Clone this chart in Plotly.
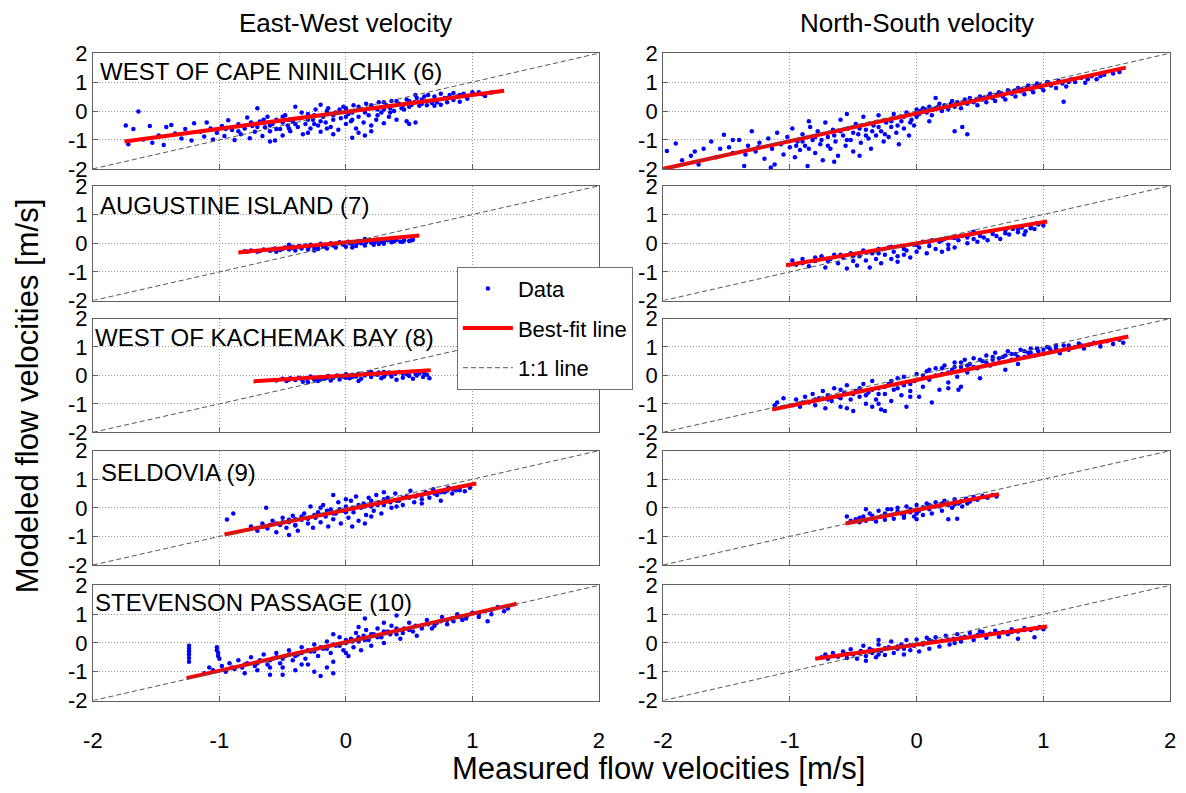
import plotly.graph_objects as go

# ---------------- data ----------------
axis_ticks = [-2, -1, 0, 1, 2]
tick_text = ["-2", "-1", "0", "1", "2"]
one_to_one = [-2, 2]

column_titles = ["East-West velocity", "North-South velocity"]
station_names = ["WEST OF CAPE NINILCHIK (6)", "AUGUSTINE ISLAND (7)",
                 "WEST OF KACHEMAK BAY (8)", "SELDOVIA (9)", "STEVENSON PASSAGE (10)"]

# (6) West of Cape Ninilchik, East-West
ew6_pts = [(-1.74,-0.50),(-1.72,-1.15),(-1.68,-0.62),(-1.64,-0.02),(-1.60,-0.98),(-1.55,-0.52),(-1.53,-1.10),
 (-1.48,-0.85),(-1.44,-1.17),(-1.42,-0.55),(-1.38,-0.48),(-1.35,-0.78),(-1.30,-0.95),(-1.27,-0.62),(-1.22,-1.02),
 (-1.20,-0.42),(-1.15,-0.72),(-1.12,-0.88),(-1.10,-0.40),(-1.07,-0.60),(-1.05,-0.98),(-1.02,-0.75),(-0.98,-0.52),
 (-0.96,-0.86),(-0.93,-0.32),(-0.90,-0.66),(-0.88,-1.00),(-0.85,-0.46),(-0.83,-0.80),(-0.80,-0.60),(-0.78,-0.22),
 (-0.76,-0.94),(-0.74,-0.52),(-0.72,-0.72),(-0.70,0.10),(-0.68,-0.36),(-0.66,-0.86),(-0.64,-0.56),(-0.62,-0.20),
 (-0.60,-0.70),(-0.58,-0.45),(-0.56,-1.02),(-0.55,-0.30),(-0.52,-0.62),(-0.50,-0.85),(-0.48,-0.15),(-0.46,-0.50),
 (-0.44,-0.70),(-0.42,-0.35),(-0.40,0.15),(-0.38,-0.55),(-0.36,-0.25),(-0.34,-0.80),(-0.32,-0.45),(-0.30,-0.10),
 (-0.28,-0.60),(-0.26,-0.30),(-0.24,0.05),(-0.22,-0.50),(-0.20,-0.72),(-0.18,-0.20),(-0.16,-0.40),(-0.14,0.10),
 (-0.12,-0.55),(-0.10,-0.30),(-0.08,-0.05),(-0.06,-0.65),(-0.04,-0.25),(-0.02,0.15),(0.00,-0.45),(0.02,-0.10),
 (0.04,-0.35),(0.06,0.20),(0.08,-0.60),(0.10,-0.20),(0.12,0.05),(0.14,-0.40),(0.16,0.25),(0.18,-0.15),(0.20,-0.50),
 (0.22,0.10),(0.24,-0.30),(0.26,0.30),(0.28,-0.05),(0.30,-0.42),(0.32,0.20),(0.34,-0.20),(0.36,0.35),(0.38,0.00),
 (0.40,-0.30),(0.42,0.25),(0.44,0.10),(0.46,0.05),(0.48,0.40),(0.50,0.15),(0.52,0.22),(0.54,0.30),(0.56,0.45),
 (0.58,0.18),(0.60,0.25),(0.62,0.50),(0.64,0.20),(0.66,0.35),(0.68,0.28),(0.70,0.50),(0.72,0.30),(0.75,0.22),
 (0.78,0.45),(0.80,0.30),(0.82,0.55),(0.85,0.38),(0.88,0.50),(0.90,0.32),(0.93,0.60),(0.96,0.42),(1.00,0.56),
 (1.05,0.65),(1.10,0.52),(1.15,0.64),(0.10,-0.75),(0.15,-0.85),(0.05,-0.92),(0.20,-0.70),(-0.20,0.22),(0.48,-0.35),
 (0.50,-0.45),(0.55,-0.40),(-0.60,-1.05),(-0.50,-0.40),(-0.10,-0.80),(0.30,0.05),(-0.30,-0.75),(0.60,0.40),
 (0.70,0.18),(0.85,0.62)]
ew6_core = [(-0.95,-0.62),(-0.85,-0.70),(-0.75,-0.40),(-0.70,-0.55),(-0.65,-0.30),(-0.60,-0.50),(-0.55,-0.62),
 (-0.50,-0.20),(-0.45,-0.30),(-0.40,-0.45),(-0.35,-0.05),(-0.30,-0.30),(-0.25,-0.15),(-0.20,-0.35),(-0.15,0.00),
 (-0.10,-0.15),(-0.05,0.05),(0.00,-0.20),(0.00,0.10),(0.05,-0.05),(0.10,0.15),(0.15,-0.05),(0.20,0.20),(0.25,0.05),
 (0.30,0.30),(0.35,0.10),(0.40,0.35),(0.45,0.20),(0.50,0.35),(0.55,0.55),(0.60,0.35),(0.65,0.55),(0.70,0.40),
 (0.75,0.60),(0.80,0.45),(0.90,0.55),(0.95,0.50),(1.00,0.65),(1.08,0.58),(-0.25,-0.45),(0.05,-0.30),(0.25,-0.15),
 (-0.45,-0.60),(-0.15,-0.60),(0.35,-0.05)]
ew6_fit_x = [-1.75, 1.25]
ew6_fit_y = [-1.05, 0.70]

# (6) West of Cape Ninilchik, North-South
ns6_pts = [(-1.97,-1.38),(-1.90,-1.12),(-1.85,-1.70),(-1.78,-1.55),(-1.72,-1.85),(-1.68,-1.30),(-1.62,-1.05),
 (-1.58,-1.60),(-1.52,-0.82),(-1.48,-1.25),(-1.45,-1.45),(-1.40,-1.00),(-1.36,-1.90),(-1.33,-1.20),(-1.30,-0.70),
 (-1.27,-1.40),(-1.24,-1.10),(-1.20,-1.65),(-1.17,-0.95),(-1.14,-1.30),(-1.12,-1.85),(-1.10,-0.75),(-1.07,-1.15),
 (-1.05,-1.50),(-1.02,-0.90),(-1.00,-1.25),(-0.98,-0.60),(-0.96,-1.60),(-0.94,-1.05),(-0.92,-1.35),(-0.90,-0.80),
 (-0.88,-1.20),(-0.86,-1.90),(-0.84,-0.55),(-0.82,-1.00),(-0.80,-1.45),(-0.78,-0.70),(-0.76,-1.15),(-0.74,-1.70),
 (-0.72,-0.40),(-0.70,-0.90),(-0.68,-1.30),(-0.66,-0.65),(-0.64,-1.05),(-0.62,-1.55),(-0.60,-0.30),(-0.58,-0.85),
 (-0.56,-1.20),(-0.54,-0.60),(-0.52,-1.00),(-0.50,-1.40),(-0.48,-0.45),(-0.46,-0.80),(-0.44,-1.10),(-0.42,-0.20),
 (-0.40,-0.65),(-0.38,-0.95),(-0.36,-1.30),(-0.34,-0.50),(-0.32,-0.85),(-0.30,-0.15),(-0.28,-0.70),(-0.26,-1.05),
 (-0.24,-0.40),(-0.22,-0.90),(-0.20,-0.55),(-0.18,-0.10),(-0.16,-0.75),(-0.14,-1.15),(-0.12,-0.35),(-0.10,-0.60),
 (-0.08,-0.05),(-0.06,-0.85),(-0.04,-0.30),(-0.02,-0.50),(0.00,0.05),(0.00,-0.20),(-1.15,-1.95),(-0.65,-1.75),
 (-0.45,-1.55),(-0.85,-0.35),(-0.55,-0.10),(0.02,-0.10),(0.05,0.10),(0.08,-0.05),(0.10,0.15),(0.12,-0.15),(0.15,0.10),
 (0.18,0.25),(0.20,0.00),(0.22,0.20),(0.25,0.05),(0.28,0.35),(0.30,0.15),(0.32,0.30),(0.35,0.10),(0.38,0.40),
 (0.40,0.25),(0.42,0.45),(0.45,0.30),(0.48,0.20),(0.50,0.50),(0.52,0.40),(0.55,0.30),(0.58,0.60),(0.60,0.45),
 (0.62,0.35),(0.65,0.65),(0.68,0.50),(0.70,0.40),(0.72,0.72),(0.75,0.60),(0.78,0.50),(0.80,0.80),(0.82,0.68),
 (0.85,0.58),(0.88,0.88),(0.90,0.75),(0.92,0.65),(0.95,0.95),(0.98,0.82),(1.00,0.72),(1.03,1.00),(1.06,0.88),
 (1.10,0.80),(1.12,1.05),(1.15,0.95),(1.18,0.85),(1.22,1.10),(1.25,1.00),(1.30,1.15),(1.33,0.98),(1.38,1.20),
 (1.42,1.10),(1.48,1.25),(1.55,1.30),(1.60,1.35),(1.16,0.32),(0.36,-0.55),(0.40,-0.80),(0.30,-0.70),(0.15,0.45),
 (0.10,-0.35)]
ns6_core = [(-0.95,-1.20),(-0.90,-1.05),(-0.85,-1.30),(-0.80,-0.90),(-0.75,-1.00),(-0.70,-1.20),(-0.65,-0.85),
 (-0.60,-0.70),(-0.55,-1.00),(-0.50,-0.75),(-0.45,-0.60),(-0.40,-0.85),(-0.35,-0.70),(-0.30,-0.55),(-0.25,-0.80),
 (-0.20,-0.35),(-0.15,-0.50),(-0.10,-0.20),(-0.05,-0.40),(0.03,0.00),(0.07,0.05),(0.13,0.05),(0.17,0.15),
 (0.23,0.15),(0.27,0.25),(0.33,0.25),(0.37,0.30),(0.43,0.35),(0.47,0.40),(0.53,0.45),(0.57,0.50),(0.63,0.55),
 (0.67,0.60),(0.73,0.65),(0.77,0.70),(0.83,0.75),(0.87,0.80),(0.93,0.85),(0.97,0.90),(1.05,0.95),(1.20,1.00),
 (1.35,1.10),(1.45,1.20),(-1.25,-1.25),(-1.35,-1.50),(-1.55,-1.30),(-1.75,-1.40),(-1.45,-1.00)]
ns6_fit_x = [-2.0, 1.65]
ns6_fit_y = [-2.0, 1.50]

# (7) Augustine Island, East-West
ew7_pts = [(-0.80,-0.28),(-0.75,-0.25),(-0.70,-0.30),(-0.65,-0.22),(-0.60,-0.26),(-0.56,-0.18),(-0.52,-0.24),
 (-0.48,-0.15),(-0.45,-0.22),(-0.42,-0.12),(-0.40,-0.25),(-0.37,-0.10),(-0.35,-0.18),(-0.32,-0.08),(-0.30,-0.22),
 (-0.28,-0.05),(-0.25,-0.15),(-0.22,-0.20),(-0.20,-0.02),(-0.18,-0.12),(-0.15,-0.18),(-0.12,0.00),(-0.10,-0.08),
 (-0.08,-0.15),(-0.05,0.03),(-0.02,-0.05),(0.00,-0.12),(0.02,0.05),(0.05,-0.02),(0.08,-0.10),(0.10,0.08),
 (0.12,0.00),(0.15,-0.08),(0.18,0.10),(0.20,0.02),(0.22,-0.05),(0.25,0.12),(0.28,0.05),(0.30,-0.02),(0.33,0.10),
 (0.36,0.03),(0.40,0.12),(0.43,0.05),(0.46,0.10),(0.50,0.08),(0.53,0.12),(-0.55,-0.30),(-0.25,-0.25),(0.05,-0.15),
 (0.35,0.15),(0.15,0.15),(-0.45,-0.05)]
ew7_core = [(-0.78,-0.30),(-0.68,-0.27),(-0.58,-0.22),(-0.50,-0.20),(-0.43,-0.17),(-0.36,-0.14),(-0.29,-0.12),
 (-0.22,-0.10),(-0.16,-0.06),(-0.09,-0.04),(-0.03,-0.02),(0.03,0.00),(0.09,0.02),(0.16,0.03),(0.23,0.05),
 (0.30,0.07),(0.38,0.06),(0.45,0.05),(0.52,0.10),(0.26,-0.03)]
ew7_fit_x = [-0.85, 0.58]
ew7_fit_y = [-0.32, 0.27]

# (7) Augustine Island, North-South
ns7_pts = [(-0.98,-0.60),(-0.95,-0.75),(-0.90,-0.55),(-0.85,-0.80),(-0.80,-0.62),(-0.75,-0.45),(-0.72,-0.85),
 (-0.68,-0.55),(-0.65,-0.40),(-0.62,-0.70),(-0.58,-0.50),(-0.55,-0.88),(-0.52,-0.35),(-0.50,-0.62),(-0.47,-0.78),
 (-0.45,-0.45),(-0.42,-0.25),(-0.40,-0.60),(-0.37,-0.85),(-0.35,-0.35),(-0.32,-0.55),(-0.30,-0.20),(-0.28,-0.70),
 (-0.25,-0.40),(-0.22,-0.15),(-0.20,-0.55),(-0.18,-0.30),(-0.15,-0.65),(-0.12,-0.10),(-0.10,-0.40),(-0.08,-0.25),
 (-0.05,-0.50),(-0.02,-0.05),(0.00,-0.30),(0.02,-0.15),(0.05,0.05),(0.08,-0.35),(0.10,-0.10),(0.12,0.10),
 (0.15,-0.20),(0.18,0.05),(0.20,-0.30),(0.22,0.15),(0.25,-0.05),(0.28,0.20),(0.30,-0.15),(0.33,0.10),(0.36,0.25),
 (0.40,0.00),(0.42,0.30),(0.45,0.15),(0.48,0.05),(0.50,0.35),(0.53,0.20),(0.56,0.10),(0.60,0.40),(0.63,0.25),
 (0.66,0.15),(0.70,0.45),(0.73,0.30),(0.76,0.50),(0.80,0.38),(0.83,0.55),(0.86,0.42),(0.90,0.60),(0.93,0.50),
 (0.96,0.65),(1.00,0.62),(0.85,0.30),(0.95,0.70)]
ns7_core = [(-0.90,-0.70),(-0.80,-0.50),(-0.70,-0.62),(-0.60,-0.40),(-0.50,-0.45),(-0.40,-0.32),(-0.30,-0.35),
 (-0.20,-0.12),(-0.10,-0.20),(0.00,-0.05),(0.10,0.05),(0.20,0.10),(0.30,0.18),(0.40,0.20),(0.50,0.25),(0.60,0.32),
 (0.70,0.35),(0.80,0.50),(0.90,0.52),(-0.15,-0.45),(0.25,-0.20),(0.45,0.40)]
ns7_fit_x = [-1.03, 1.03]
ns7_fit_y = [-0.77, 0.76]

# (8) West of Kachemak Bay, East-West
ew8_pts = [(-0.55,-0.18),(-0.50,-0.12),(-0.47,-0.20),(-0.44,-0.10),(-0.40,-0.16),(-0.37,-0.08),(-0.34,-0.22),
 (-0.31,-0.12),(-0.28,-0.04),(-0.25,-0.15),(-0.22,-0.20),(-0.20,-0.06),(-0.17,-0.12),(-0.14,-0.02),(-0.12,-0.18),
 (-0.10,-0.08),(-0.07,0.00),(-0.05,-0.14),(-0.02,-0.05),(0.00,0.04),(0.03,-0.10),(0.05,0.02),(0.08,-0.04),
 (0.10,0.06),(0.12,-0.12),(0.15,0.00),(0.18,0.08),(0.20,-0.06),(0.23,0.04),(0.26,0.10),(0.28,-0.10),(0.31,0.02),
 (0.34,0.10),(0.36,-0.04),(0.39,0.06),(0.42,0.12),(0.45,-0.08),(0.48,0.04),(0.50,0.10),(0.53,-0.12),(0.56,0.00),
 (0.58,0.08),(0.61,-0.06),(0.64,0.02),(0.66,-0.10),(0.40,-0.15),(0.30,0.12),(-0.30,-0.24),(0.10,-0.20),(0.20,0.12)]
ew8_core = [(-0.45,-0.15),(-0.35,-0.13),(-0.25,-0.08),(-0.15,-0.07),(-0.05,-0.03),(0.05,-0.06),(0.15,0.04),
 (0.25,0.02),(0.35,0.05),(0.45,0.06),(0.55,0.05),(0.62,0.08),(0.00,-0.08),(0.30,-0.05),(-0.20,-0.14),(0.50,-0.02)]
ew8_fit_x = [-0.73, 0.67]
ew8_fit_y = [-0.21, 0.18]

# (8) West of Kachemak Bay, North-South
ns8_pts = [(-1.12,-1.05),(-1.10,-0.95),(-0.98,-1.05),(-0.95,-0.85),(-0.92,-1.10),(-0.88,-0.75),(-0.85,-0.95),
 (-0.82,-0.65),(-0.80,-1.05),(-0.77,-0.80),(-0.74,-0.55),(-0.72,-1.15),(-0.70,-0.70),(-0.67,-0.90),(-0.65,-0.45),
 (-0.62,-0.75),(-0.60,-1.10),(-0.57,-0.60),(-0.55,-0.35),(-0.52,-0.85),(-0.50,-1.25),(-0.48,-0.55),(-0.45,-0.75),
 (-0.42,-0.30),(-0.40,-1.00),(-0.38,-0.60),(-0.35,-0.20),(-0.32,-0.85),(-0.30,-0.45),(-0.28,-1.20),(-0.25,-0.65),
 (-0.22,-0.30),(-0.20,-0.90),(-0.18,-0.50),(-0.15,-0.10),(-0.12,-0.70),(-0.10,-0.35),(-0.08,-1.10),(-0.05,-0.55),
 (-0.02,-0.20),(0.00,0.05),(0.02,-0.75),(0.05,-0.40),(0.08,0.15),(0.10,-0.15),(0.12,-0.95),(0.15,0.25),(0.18,-0.50),
 (0.20,0.05),(0.22,0.35),(0.25,-0.25),(0.28,0.20),(0.30,0.45),(0.32,-0.05),(0.35,0.30),(0.38,0.55),(0.40,0.10),
 (0.42,0.40),(0.45,0.60),(0.48,0.25),(0.50,-0.10),(0.52,0.50),(0.55,0.70),(0.58,0.35),(0.60,0.55),(0.62,0.80),
 (0.65,0.45),(0.68,0.65),(0.70,0.20),(0.72,0.85),(0.75,0.55),(0.78,0.75),(0.80,0.40),(0.82,0.90),(0.85,0.65),
 (0.88,0.80),(0.90,0.95),(0.93,0.70),(0.96,0.85),(1.00,0.75),(1.03,1.00),(1.06,0.85),(1.10,0.95),(1.13,0.78),
 (1.16,1.05),(1.20,0.90),(1.25,1.00),(1.28,1.12),(1.32,0.95),(1.36,1.08),(1.40,1.15),(1.45,1.02),(1.50,1.20),
 (1.55,1.10),(1.60,1.25),(1.63,1.15),(0.35,-0.40),(0.33,-0.50),(-0.25,-1.25),(-0.35,-1.10),(-0.55,-1.15),
 (-1.05,-0.80)]
ns8_core = [(-0.90,-0.95),(-0.80,-0.85),(-0.70,-0.85),(-0.60,-0.80),(-0.50,-0.65),(-0.45,-0.45),(-0.40,-0.70),
 (-0.35,-0.50),(-0.30,-0.65),(-0.25,-0.40),(-0.20,-0.20),(-0.15,-0.45),(-0.10,-0.05),(-0.05,-0.30),(0.00,-0.15),
 (0.05,0.00),(0.10,0.20),(0.15,0.00),(0.20,0.25),(0.25,0.10),(0.30,0.30),(0.35,0.45),(0.40,0.35),(0.45,0.30),
 (0.50,0.55),(0.55,0.45),(0.60,0.65),(0.65,0.60),(0.70,0.70),(0.75,0.75),(0.80,0.65),(0.85,0.85),(0.90,0.80),
 (0.95,0.95),(1.00,0.90),(1.05,0.95),(1.10,1.05),(1.20,1.05),(1.30,1.05),(1.45,1.15),(-0.60,-0.50),(-0.05,-0.75),
 (0.25,-0.45),(-0.30,-1.00)]
ns8_fit_x = [-1.14, 1.67]
ns8_fit_y = [-1.20, 1.37]

# (9) Seldovia, East-West
ew9_pts = [(-0.75,-0.65),(-0.70,-0.80),(-0.66,-0.55),(-0.62,-0.72),(-0.58,-0.45),(-0.55,-0.85),(-0.52,-0.60),
 (-0.50,-0.35),(-0.47,-0.70),(-0.45,-0.50),(-0.42,-0.28),(-0.40,-0.62),(-0.38,-0.80),(-0.35,-0.42),(-0.33,-0.20),
 (-0.30,-0.55),(-0.28,0.05),(-0.26,-0.70),(-0.24,-0.35),(-0.22,-0.15),(-0.20,-0.50),(-0.18,0.10),(-0.16,-0.30),
 (-0.14,-0.65),(-0.12,-0.05),(-0.10,-0.40),(-0.08,-0.20),(-0.06,0.20),(-0.04,-0.55),(-0.02,-0.10),(0.00,0.05),
 (0.02,-0.35),(0.04,0.25),(0.06,-0.15),(0.08,0.40),(0.10,-0.45),(0.12,0.00),(0.14,0.15),(0.16,-0.25),(0.18,0.35),
 (0.20,0.05),(0.22,-0.10),(0.24,0.45),(0.26,0.20),(0.28,-0.20),(0.30,0.10),(0.33,0.35),(0.36,0.00),(0.39,0.50),
 (0.42,0.25),(0.45,0.10),(0.48,0.40),(0.51,0.60),(0.54,0.20),(0.57,0.45),(0.60,0.30),(0.63,0.55),(0.66,0.35),
 (0.69,0.65),(0.72,0.45),(0.75,0.25),(0.78,0.55),(0.81,0.70),(0.84,0.50),(0.87,0.62),(0.90,0.72),(0.94,0.58),
 (0.98,0.70),(-0.94,-0.41),(-0.89,-0.20),(-0.63,0.00),(-0.10,0.45),(0.05,-0.65),(-0.45,-0.95),(0.30,0.55),
 (0.15,-0.55)]
ew9_core = [(-0.65,-0.65),(-0.60,-0.60),(-0.55,-0.55),(-0.50,-0.50),(-0.45,-0.42),(-0.40,-0.40),(-0.35,-0.30),
 (-0.30,-0.38),(-0.25,-0.25),(-0.20,-0.25),(-0.15,-0.10),(-0.10,-0.20),(-0.05,-0.05),(0.00,-0.15),(0.05,0.00),
 (0.10,0.10),(0.15,0.05),(0.20,0.25),(0.25,0.10),(0.30,0.30),(0.35,0.20),(0.40,0.25),(0.45,0.35),(0.50,0.35),
 (0.55,0.40),(0.60,0.45),(0.65,0.50),(0.70,0.50),(0.75,0.55),(0.80,0.60),(0.85,0.65),(0.90,0.62),(0.00,0.30),
 (0.20,-0.30),(-0.20,0.00),(0.40,0.05),(-0.40,-0.60),(0.60,0.15)]
ew9_fit_x = [-0.96, 1.03]
ew9_fit_y = [-0.93, 0.85]

# (9) Seldovia, North-South
ns9_pts = [(-0.52,-0.45),(-0.48,-0.40),(-0.45,-0.50),(-0.42,-0.30),(-0.40,-0.45),(-0.37,-0.20),(-0.35,-0.38),
 (-0.32,-0.48),(-0.30,-0.10),(-0.28,-0.30),(-0.25,-0.42),(-0.23,-0.05),(-0.20,-0.25),(-0.18,-0.38),(-0.15,0.00),
 (-0.12,-0.20),(-0.10,-0.35),(-0.08,0.05),(-0.05,-0.15),(-0.02,-0.30),(0.00,0.10),(0.02,-0.10),(0.05,-0.25),
 (0.08,0.15),(0.10,-0.05),(0.12,-0.20),(0.15,0.20),(0.18,0.05),(0.20,-0.10),(0.22,0.25),(0.25,0.10),(0.28,0.00),
 (0.30,0.30),(0.33,0.15),(0.36,0.05),(0.39,0.32),(0.42,0.22),(0.45,0.38),(0.48,0.28),(0.52,0.42),(0.56,0.35),
 (0.60,0.45),(0.63,0.40),(0.25,-0.40),(0.32,-0.38),(-0.55,-0.30),(-0.40,-0.05),(0.00,-0.40)]
ns9_core = [(-0.45,-0.35),(-0.35,-0.28),(-0.25,-0.20),(-0.15,-0.12),(-0.05,-0.05),(0.05,0.02),(0.15,0.05),
 (0.25,0.15),(0.35,0.22),(0.45,0.30),(0.55,0.38),(-0.10,-0.25),(0.10,0.10),(0.20,0.15),(0.30,0.12),(0.40,0.15),
 (0.00,-0.20),(-0.20,-0.05)]
ns9_fit_x = [-0.56, 0.65]
ns9_fit_y = [-0.55, 0.48]

# (10) Stevenson Passage, East-West
ew10_pts = [(-1.24,-0.10),(-1.24,-0.20),(-1.24,-0.30),(-1.24,-0.40),(-1.24,-0.52),(-1.24,-0.65),(-1.02,-0.15),
 (-1.02,-0.25),(-1.01,-0.35),(-1.01,-0.45),(-1.00,-0.55),(-1.12,-1.05),(-1.08,-0.85),(-1.05,-0.95),(-0.98,-0.80),
 (-0.95,-1.00),(-0.92,-0.70),(-0.88,-0.90),(-0.85,-0.60),(-0.82,-0.85),(-0.80,-1.05),(-0.78,-0.70),(-0.75,-0.50),
 (-0.72,-0.80),(-0.70,-0.95),(-0.68,-0.60),(-0.65,-0.40),(-0.62,-0.75),(-0.60,-1.10),(-0.58,-0.55),(-0.55,-0.35),
 (-0.52,-0.70),(-0.50,-0.85),(-0.48,-0.45),(-0.45,-0.25),(-0.42,-0.60),(-0.40,-0.95),(-0.38,-0.40),(-0.35,-0.15),
 (-0.32,-0.55),(-0.30,-0.75),(-0.28,-0.30),(-0.25,-0.05),(-0.22,-0.45),(-0.20,-1.15),(-0.18,-0.20),(-0.15,0.05),
 (-0.12,-0.35),(-0.10,-0.65),(-0.08,-0.10),(-0.05,0.20),(-0.02,-0.25),(0.00,0.00),(0.02,-0.45),(0.04,0.15),
 (0.06,-0.15),(0.08,0.35),(0.10,0.05),(0.12,-0.25),(0.14,0.25),(0.16,0.45),(0.18,0.10),(0.20,-0.10),(0.22,0.30),
 (0.25,0.50),(0.28,0.20),(0.30,0.00),(0.33,0.40),(0.36,0.60),(0.40,0.30),(0.43,0.15),(0.46,0.50),(0.50,0.70),
 (0.53,0.40),(0.56,0.25),(0.60,0.60),(0.64,0.80),(0.68,0.50),(0.72,0.70),(0.76,0.90),(0.80,0.65),(0.84,0.85),
 (0.88,1.00),(0.92,0.80),(0.96,0.95),(1.00,1.05),(1.05,0.90),(1.10,1.10),(1.15,1.00),(1.20,1.25),(1.28,1.20),
 (1.12,0.75),(0.40,0.95),(0.15,0.85),(-0.25,-1.00),(-0.10,-1.05),(-0.50,-1.10),(-0.15,-0.85)]
ew10_core = [(-0.90,-0.85),(-0.80,-0.75),(-0.70,-0.70),(-0.60,-0.60),(-0.55,-0.50),(-0.50,-0.55),(-0.45,-0.40),
 (-0.40,-0.45),(-0.35,-0.35),(-0.30,-0.25),(-0.25,-0.30),(-0.20,-0.15),(-0.15,-0.20),(-0.10,-0.05),(-0.05,-0.10),
 (0.00,0.10),(0.05,0.05),(0.10,0.20),(0.15,0.10),(0.20,0.30),(0.25,0.20),(0.30,0.40),(0.35,0.30),(0.40,0.50),
 (0.45,0.35),(0.50,0.45),(0.55,0.60),(0.60,0.50),(0.65,0.65),(0.70,0.60),(0.75,0.75),(0.80,0.80),(0.85,0.75),
 (0.90,0.90),(0.95,0.85),(1.05,1.00),(1.15,1.15),(1.25,1.10),(0.10,0.55),(0.30,0.70),(-0.10,0.30),(0.00,-0.35),
 (-0.35,-0.75),(-0.60,-0.85)]
ew10_fit_x = [-1.26, 1.35]
ew10_fit_y = [-1.22, 1.36]

# (10) Stevenson Passage, North-South
ns10_pts = [(-0.75,-0.50),(-0.72,-0.40),(-0.70,-0.55),(-0.66,-0.35),(-0.62,-0.48),(-0.58,-0.30),(-0.55,-0.52),
 (-0.52,-0.22),(-0.50,-0.40),(-0.47,-0.55),(-0.44,-0.28),(-0.42,-0.10),(-0.40,-0.45),(-0.37,-0.20),(-0.35,-0.35),
 (-0.32,-0.50),(-0.30,-0.05),(-0.28,-0.28),(-0.25,-0.42),(-0.22,-0.15),(-0.20,0.05),(-0.18,-0.35),(-0.15,-0.20),
 (-0.12,-0.05),(-0.10,-0.40),(-0.08,0.10),(-0.05,-0.25),(-0.02,-0.10),(0.00,0.12),(0.02,-0.30),(0.05,-0.05),
 (0.08,0.18),(0.10,-0.20),(0.12,0.05),(0.15,0.20),(0.18,-0.12),(0.20,0.08),(0.23,0.25),(0.26,-0.05),(0.29,0.15),
 (0.32,0.30),(0.35,0.05),(0.38,0.22),(0.42,0.35),(0.45,0.10),(0.48,0.28),(0.52,0.38),(0.55,0.18),(0.58,0.32),
 (0.62,0.42),(0.65,0.22),(0.68,0.38),(0.72,0.30),(0.75,0.48),(0.80,0.40),(0.85,0.52),(0.90,0.45),(0.93,0.20),
 (0.97,0.55),(1.00,0.48),(0.80,0.15),(-0.40,-0.62),(-0.30,0.10)]
ns10_core = [(-0.65,-0.45),(-0.55,-0.38),(-0.45,-0.35),(-0.35,-0.25),(-0.25,-0.18),(-0.15,-0.12),(-0.05,-0.08),
 (0.05,0.00),(0.15,0.05),(0.25,0.12),(0.35,0.18),(0.45,0.22),(0.55,0.28),(0.65,0.35),(0.75,0.38),(0.85,0.45),
 (0.95,0.50),(0.10,0.10),(-0.10,-0.20),(0.30,0.00),(0.50,0.40),(-0.30,-0.40)]
ns10_fit_x = [-0.80, 1.03]
ns10_fit_y = [-0.55, 0.57]

panels = [
    (ew6_pts + ew6_core, ew6_fit_x, ew6_fit_y), (ns6_pts + ns6_core, ns6_fit_x, ns6_fit_y),
    (ew7_pts + ew7_core, ew7_fit_x, ew7_fit_y), (ns7_pts + ns7_core, ns7_fit_x, ns7_fit_y),
    (ew8_pts + ew8_core, ew8_fit_x, ew8_fit_y), (ns8_pts + ns8_core, ns8_fit_x, ns8_fit_y),
    (ew9_pts + ew9_core, ew9_fit_x, ew9_fit_y), (ns9_pts + ns9_core, ns9_fit_x, ns9_fit_y),
    (ew10_pts + ew10_core, ew10_fit_x, ew10_fit_y), (ns10_pts + ns10_core, ns10_fit_x, ns10_fit_y),
]

# ---------------- layout geometry ----------------
W, H = 1186, 793
FONT = "Liberation Sans, Arial, Helvetica, sans-serif"
col_px = [(84, 597), (662, 1176)]
row_px = [(42.5, 162), (179.5, 298), (316.5, 434), (453, 571), (592, 711)]
label_pos = [(89, 61), (89, 200), (84, 336), (90, 475), (84, 610)]

fig = go.Figure()
layout = {}
for i, (pts, fx, fy) in enumerate(panels):
    r, c = divmod(i, 2)
    n = i + 1
    xa = "x" if n == 1 else f"x{n}"
    ya = "y" if n == 1 else f"y{n}"
    xs = [p[0] for p in pts]
    ys = [p[1] for p in pts]
    first = (i == 0)
    fig.add_trace(go.Scatter(x=xs, y=ys, mode="markers", name="Data",
                             marker=dict(color="#0000ff", size=4.5),
                             showlegend=first, legendgroup="data",
                             xaxis=xa, yaxis=ya))
    fig.add_trace(go.Scatter(x=fx, y=fy, mode="lines", name="Best-fit line",
                             line=dict(color="#ff0000", width=4),
                             showlegend=first, legendgroup="fit",
                             xaxis=xa, yaxis=ya))
    fig.add_trace(go.Scatter(x=one_to_one, y=one_to_one, mode="lines", name="1:1 line",
                             line=dict(color="#555555", width=1, dash="5px,3px"),
                             showlegend=first, legendgroup="one",
                             xaxis=xa, yaxis=ya))
    common = dict(range=[-2, 2], tickvals=axis_ticks, ticktext=tick_text,
                  showline=True, mirror=True, linecolor="#606060", linewidth=1,
                  ticks="inside", ticklen=5, tickcolor="#606060",
                  showgrid=True, gridcolor="#9a9a9a", griddash="1px,2px", gridwidth=1,
                  zeroline=False, tickfont=dict(family=FONT, size=22, color="black"),
                  fixedrange=True)
    x0, x1 = col_px[c]
    t, b = row_px[r]
    layout["xaxis" if n == 1 else f"xaxis{n}"] = dict(
        common, domain=[x0 / W, x1 / W], anchor=ya, showticklabels=(r == 4),
        ticklabelstandoff=20)
    layout["yaxis" if n == 1 else f"yaxis{n}"] = dict(
        common, domain=[1 - b / H, 1 - t / H], anchor=xa)

annotations = []
for c, title in enumerate(column_titles):
    x0, x1 = col_px[c]
    annotations.append(dict(text=title, x=(x0 + x1) / 2 / W, y=1 - 11 / H, xref="paper", yref="paper",
                            xanchor="center", yanchor="middle", showarrow=False,
                            font=dict(family=FONT, size=26, color="black")))
for name, (px, py) in zip(station_names, label_pos):
    annotations.append(dict(text=name, x=px / W, y=1 - py / H, xref="paper", yref="paper",
                            xanchor="left", yanchor="middle", showarrow=False,
                            font=dict(family=FONT, size=24, color="black")))
annotations.append(dict(text="Modeled flow velocities [m/s]", x=18 / W, y=1 - 396 / H,
                        xref="paper", yref="paper", textangle=-90, showarrow=False,
                        xanchor="center", yanchor="middle",
                        font=dict(family=FONT, size=31, color="black")))
annotations.append(dict(text="Measured flow velocities [m/s]", x=657 / W, y=1 - 781 / H,
                        xref="paper", yref="paper", showarrow=False,
                        xanchor="center", yanchor="middle",
                        font=dict(family=FONT, size=31, color="black")))

fig.update_layout(
    width=W, height=H, margin=dict(l=0, r=0, t=0, b=0),
    paper_bgcolor="white", plot_bgcolor="white",
    annotations=annotations,
    legend=dict(x=453 / W, y=1 - 263 / H, xanchor="left", yanchor="top",
                bgcolor="white", bordercolor="#707070", borderwidth=1,
                font=dict(family=FONT, size=22, color="black"),
                tracegroupgap=8, itemwidth=50),
    **layout,
)

fig.write_html("out.html")
